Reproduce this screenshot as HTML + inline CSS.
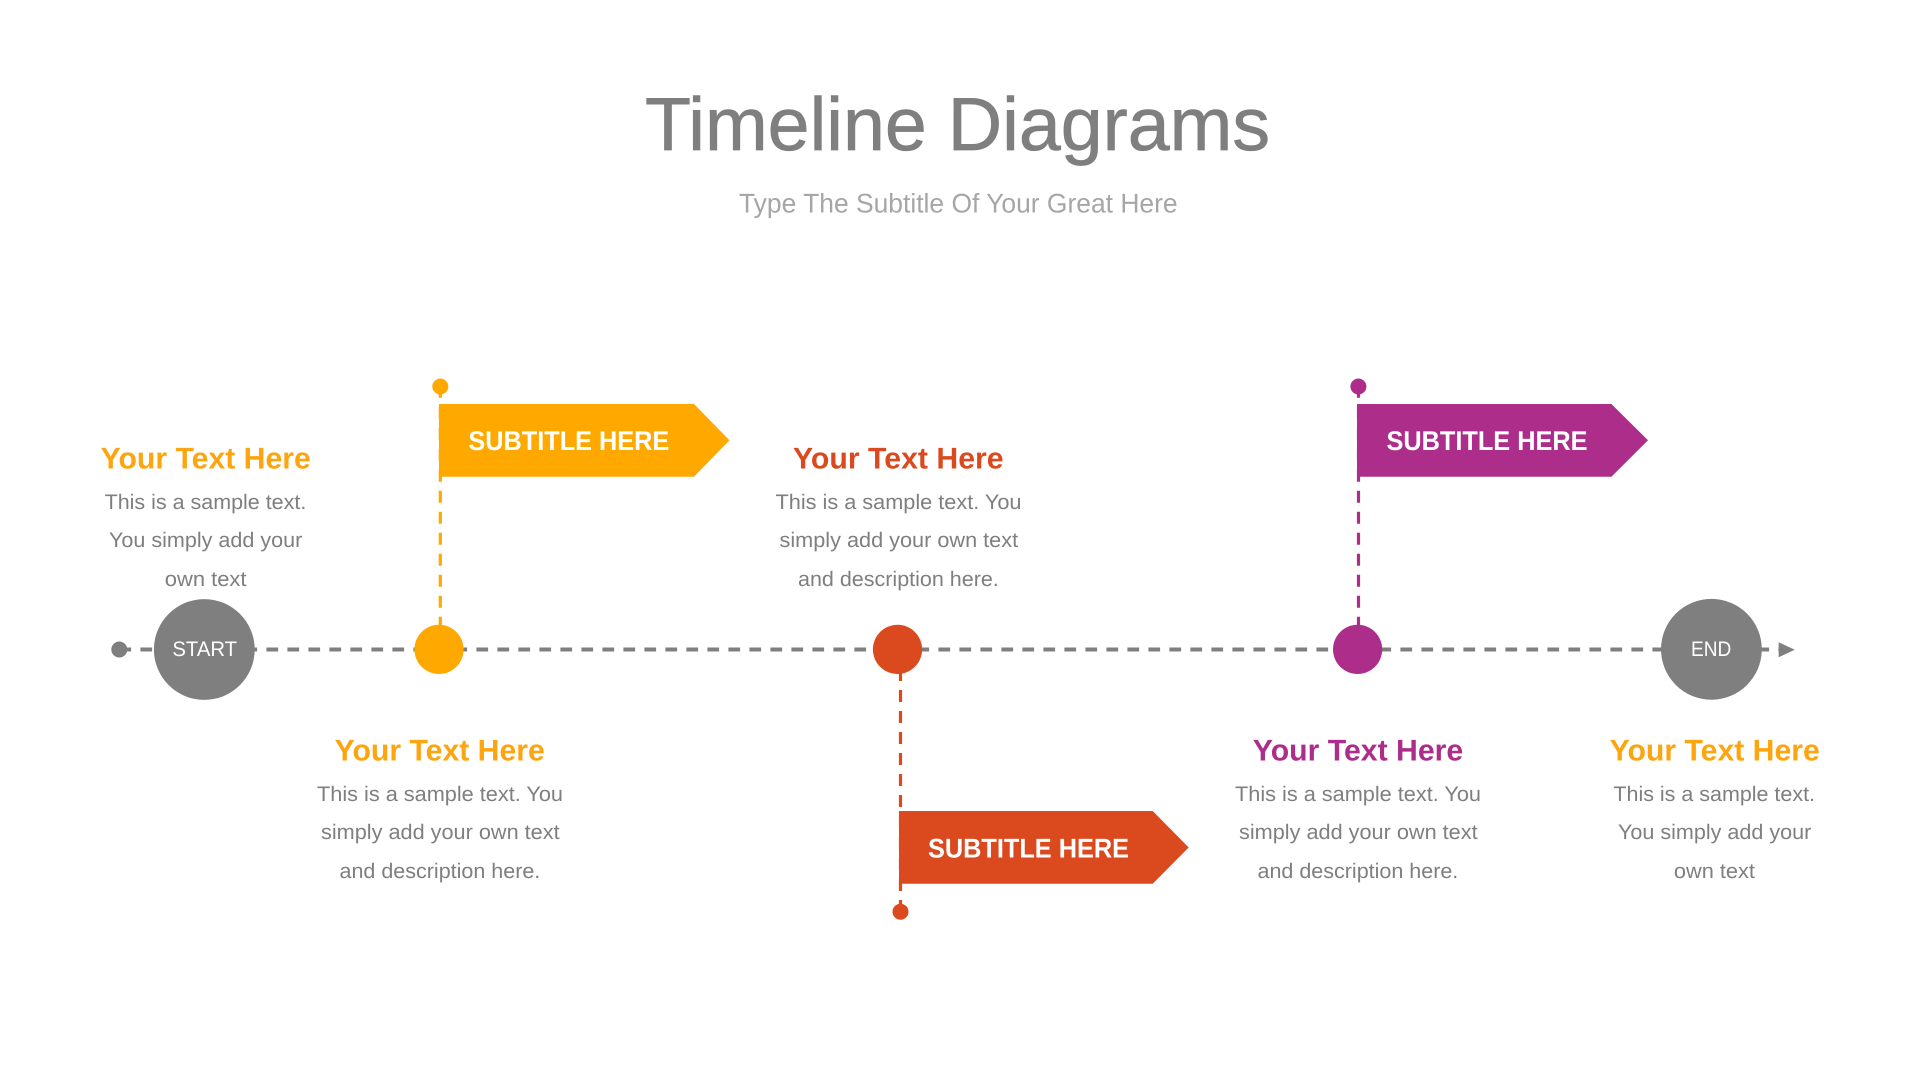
<!DOCTYPE html>
<html lang="en">
<head>
<meta charset="utf-8">
<title>Timeline Diagrams</title>
<style>
html,body{margin:0;padding:0;background:#fff;width:1920px;height:1080px;overflow:hidden}
svg{display:block}
text{font-family:"Liberation Sans",sans-serif;text-rendering:geometricPrecision}
.h{font-size:30px;font-weight:700}
.b{font-size:21px;fill:#7f7f7f}
.f{font-size:27px;font-weight:700;fill:#fff}
.c{font-size:21px;fill:#fff}
.l{fill:none;stroke-width:3.2;stroke-dasharray:12 9}
</style>
</head>
<body>
<svg width="1920" height="1080" viewBox="0 0 1920 1080" xmlns="http://www.w3.org/2000/svg">
<rect width="1920" height="1080" fill="#fff"/>

<text x="645" y="150" font-size="75" fill="#7f7f7f" stroke="#7f7f7f" stroke-width="0.7" textLength="625" lengthAdjust="spacingAndGlyphs">Timeline Diagrams</text>
<text x="739" y="212.7" font-size="27" fill="#a6a6a6" textLength="438.6" lengthAdjust="spacingAndGlyphs">Type The Subtitle Of Your Great Here</text>

<!-- main line -->
<path d="M119.4 649.5H1780" stroke="#7f7f7f" stroke-width="4" stroke-dasharray="11.7 9.3" fill="none"/>
<circle cx="119.3" cy="649.5" r="8" fill="#7f7f7f"/>
<polygon points="1778.7,642.3 1794.8,649.8 1778.7,657.3" fill="#7f7f7f"/>

<!-- verticals -->
<path class="l" d="M440.3 385.7V628" stroke="#ffa900"/>
<path class="l" d="M900.5 912V670" stroke="#db4a1e"/>
<path class="l" d="M1358.5 385.7V628" stroke="#ad2e8a"/>

<!-- small dots -->
<circle cx="440.3" cy="386.5" r="8" fill="#ffa900"/>
<circle cx="900.5" cy="911.7" r="8" fill="#db4a1e"/>
<circle cx="1358.4" cy="386.5" r="8" fill="#ad2e8a"/>

<!-- milestones -->
<circle cx="204.3" cy="649.5" r="50.4" fill="#7f7f7f"/>
<circle cx="439" cy="649.4" r="24.6" fill="#ffa900"/>
<circle cx="897.5" cy="649.4" r="24.6" fill="#db4a1e"/>
<circle cx="1357.6" cy="649.4" r="24.6" fill="#ad2e8a"/>
<circle cx="1711.4" cy="649.3" r="50.4" fill="#7f7f7f"/>
<text class="c" x="172.4" y="656" textLength="64.7" lengthAdjust="spacingAndGlyphs">START</text>
<text class="c" x="1691" y="655.8" textLength="40.3" lengthAdjust="spacingAndGlyphs">END</text>

<!-- flags -->
<polygon points="439,404 694,404 729.5,440.3 694,476.8 439,476.8" fill="#ffa900"/>
<polygon points="899,811 1152.7,811 1188.7,847.5 1152.7,883.7 899,883.7" fill="#db4a1e"/>
<polygon points="1357,404 1611.4,404 1648,440.3 1611.4,476.8 1357,476.8" fill="#ad2e8a"/>
<text class="f" x="468.4" y="450" textLength="200.9" lengthAdjust="spacingAndGlyphs">SUBTITLE HERE</text>
<text class="f" x="928" y="857.3" textLength="201" lengthAdjust="spacingAndGlyphs">SUBTITLE HERE</text>
<text class="f" x="1386.5" y="450" textLength="201" lengthAdjust="spacingAndGlyphs">SUBTITLE HERE</text>

<!-- col 1 top -->
<text class="h" x="100.6" y="468.3" fill="#fda50f" textLength="210.2" lengthAdjust="spacingAndGlyphs">Your Text Here</text>
<text class="b" x="104.6" y="509" textLength="201.7" lengthAdjust="spacingAndGlyphs">This is a sample text.</text>
<text class="b" x="109" y="547" textLength="193.3" lengthAdjust="spacingAndGlyphs">You simply add your</text>
<text class="b" x="164.8" y="586" textLength="81.7" lengthAdjust="spacingAndGlyphs">own text</text>

<!-- col 2 bottom -->
<text class="h" x="334.6" y="760.7" fill="#fda50f" textLength="210.2" lengthAdjust="spacingAndGlyphs">Your Text Here</text>
<text class="b" x="317" y="801" textLength="246" lengthAdjust="spacingAndGlyphs">This is a sample text. You</text>
<text class="b" x="321" y="839" textLength="238.6" lengthAdjust="spacingAndGlyphs">simply add your own text</text>
<text class="b" x="339.5" y="878" textLength="200.8" lengthAdjust="spacingAndGlyphs">and description here.</text>

<!-- col 3 top -->
<text class="h" x="793" y="468.3" fill="#db4a1e" textLength="210.6" lengthAdjust="spacingAndGlyphs">Your Text Here</text>
<text class="b" x="775.5" y="509" textLength="246" lengthAdjust="spacingAndGlyphs">This is a sample text. You</text>
<text class="b" x="779.5" y="547" textLength="238.6" lengthAdjust="spacingAndGlyphs">simply add your own text</text>
<text class="b" x="798" y="586" textLength="200.8" lengthAdjust="spacingAndGlyphs">and description here.</text>

<!-- col 4 bottom -->
<text class="h" x="1252.8" y="760.7" fill="#ad2e8a" textLength="210.4" lengthAdjust="spacingAndGlyphs">Your Text Here</text>
<text class="b" x="1235" y="801" textLength="246" lengthAdjust="spacingAndGlyphs">This is a sample text. You</text>
<text class="b" x="1239" y="839" textLength="238.6" lengthAdjust="spacingAndGlyphs">simply add your own text</text>
<text class="b" x="1257.5" y="878" textLength="200.8" lengthAdjust="spacingAndGlyphs">and description here.</text>

<!-- col 5 bottom -->
<text class="h" x="1609.6" y="760.7" fill="#fda50f" textLength="210.2" lengthAdjust="spacingAndGlyphs">Your Text Here</text>
<text class="b" x="1613.4" y="801" textLength="201.6" lengthAdjust="spacingAndGlyphs">This is a sample text.</text>
<text class="b" x="1618" y="839" textLength="193.3" lengthAdjust="spacingAndGlyphs">You simply add your</text>
<text class="b" x="1673.9" y="878" textLength="81.1" lengthAdjust="spacingAndGlyphs">own text</text>
</svg>
</body>
</html>
